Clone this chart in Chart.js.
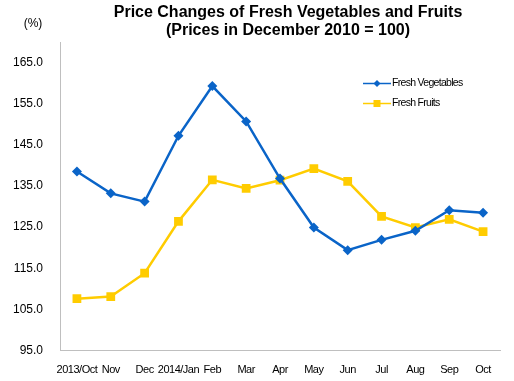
<!DOCTYPE html>
<html><head><meta charset="utf-8">
<script src="https://cdn.jsdelivr.net/npm/chart.js@4/dist/chart.umd.min.js"></script>
<style>html,body{margin:0;padding:0;background:#fff}#wrap{width:514px;height:381px;position:relative}</style>
</head><body><div id="wrap"><canvas id="c" width="514" height="381"></canvas></div>
<script>
const categories = ['2013/Oct','Nov','Dec','2014/Jan','Feb','Mar','Apr','May','Jun','Jul','Aug','Sep','Oct'];
const vegetables = [138.5,133.2,131.2,147.2,159.3,150.7,136.8,124.9,119.4,121.9,124.1,129.1,128.5];
const fruits = [107.6,108.1,113.8,126.4,136.5,134.4,136.4,139.2,136.1,127.6,124.9,126.9,123.9];
const yTicks = [95,105,115,125,135,145,155,165];
const titleLines = ['Price Changes of Fresh Vegetables and Fruits','(Prices in December 2010 = 100)'];
const unitLabel = '(%)';
const seriesNames = ['Fresh Vegetables','Fresh Fruits'];

const BLUE = '#0A64C8', YELLOW = '#FFCC00';
const SANS = "'Liberation Sans',Arial,sans-serif";

const decor = {
  id: 'decor',
  afterDraw(chart) {
    const ctx = chart.ctx;
    ctx.save();
    ctx.fillStyle = '#000';
    ctx.textAlign = 'center';
    ctx.textBaseline = 'middle';
    ctx.font = 'bold 16px ' + SANS;
    ctx.fillText(titleLines[0], 288, 13);
    ctx.fillText(titleLines[1], 288, 31);
    ctx.font = '12px ' + SANS;
    ctx.fillText(unitLabel, 33, 24);
    // legend
    const items = chart.data.datasets;
    const ys = [83.5, 103.5];
    items.forEach((ds, i) => {
      const y = ys[i];
      ctx.strokeStyle = ds.borderColor;
      ctx.lineWidth = 1.5;
      ctx.beginPath(); ctx.moveTo(363, y); ctx.lineTo(391, y); ctx.stroke();
      ctx.fillStyle = ds.backgroundColor;
      if (ds.pointStyle === 'rectRot') {
        ctx.beginPath(); ctx.moveTo(377, y-3.5); ctx.lineTo(380.5, y); ctx.lineTo(377, y+3.5); ctx.lineTo(373.5, y); ctx.closePath(); ctx.fill();
      } else {
        ctx.fillRect(373.5, y-3.5, 7, 7);
      }
      ctx.fillStyle = '#000';
      ctx.textAlign = 'left';
      ctx.font = '10.5px ' + SANS;
      ctx.letterSpacing = '-0.7px';
      ctx.fillText(ds.label, 392, y);
      ctx.letterSpacing = '0px';
    });
    ctx.restore();
  }
};

new Chart(document.getElementById('c'), {
  type: 'line',
  data: {
    labels: categories,
    datasets: [
      { label: seriesNames[0], data: vegetables, borderColor: BLUE, backgroundColor: BLUE, borderWidth: 2.5,
        pointStyle: 'rectRot', pointRadius: 5, pointHoverRadius: 5, pointBorderWidth: 0, tension: 0 },
      { label: seriesNames[1], data: fruits, borderColor: YELLOW, backgroundColor: YELLOW, borderWidth: 2.5,
        pointStyle: 'rect', pointRadius: 6.2, pointHoverRadius: 6.2, pointBorderWidth: 0, tension: 0 }
    ]
  },
  options: {
    responsive: false,
    animation: false,
    events: [],
    layout: { padding: { top: 42, right: 14, left: 0, bottom: 0 } },
    plugins: { legend: { display: false }, title: { display: false }, tooltip: { enabled: false } },
    scales: {
      x: {
        offset: true,
        grid: { display: false, drawTicks: false },
        border: { display: true, color: '#BFBFBF', width: 1 },
        ticks: { color: '#000', font: { family: SANS, size: 11 }, padding: 13, autoSkip: false, maxRotation: 0, minRotation: 0 },
        afterFit(s) {
          s.height = 30.5;
          if (!s._lsPatched) {
            const orig = s.drawLabels.bind(s);
            s.drawLabels = function(area) {
              const c = this.ctx; const prev = c.letterSpacing;
              c.letterSpacing = '-0.5px';
              orig(area);
              c.letterSpacing = prev || '0px';
            };
            s._lsPatched = true;
          }
        }
      },
      y: {
        min: 95, max: 170,
        grid: { display: false, drawTicks: false },
        border: { display: true, color: '#BFBFBF', width: 1 },
        ticks: { color: '#000', font: { family: SANS, size: 12 }, padding: 17, callback: v => Number(v).toFixed(1) },
        afterBuildTicks(s) { s.ticks = yTicks.map(v => ({ value: v })); },
        afterFit(s) { s.width = 60; }
      }
    }
  },
  plugins: [decor]
});
</script></body></html>
